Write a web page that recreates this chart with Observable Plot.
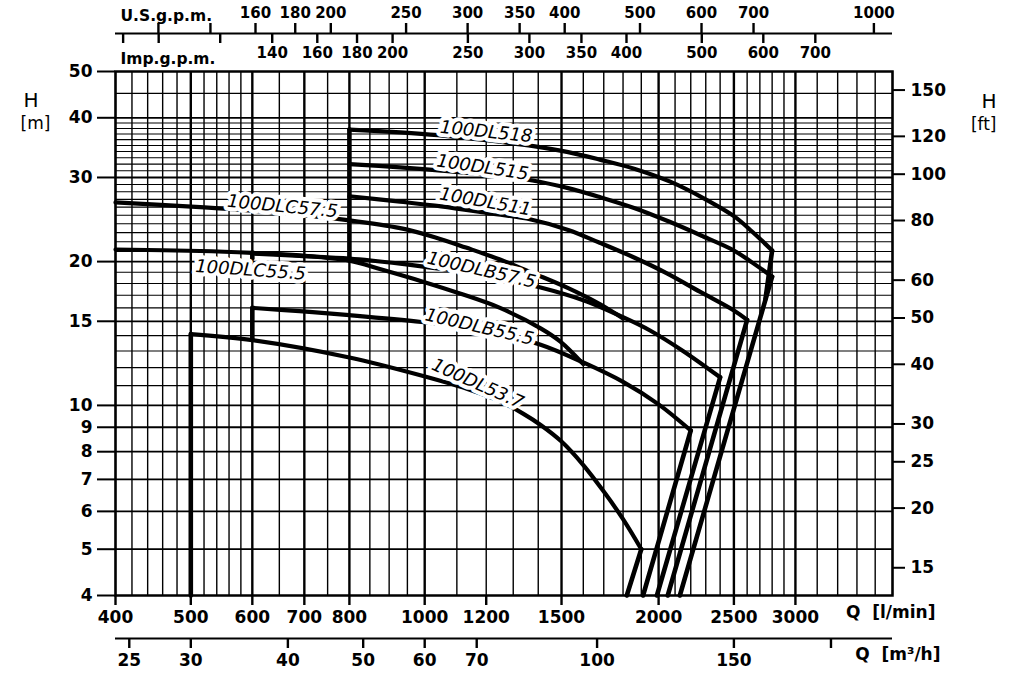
<!DOCTYPE html>
<html><head><meta charset="utf-8">
<script src="https://cdn.jsdelivr.net/npm/d3@7"></script>
<script src="https://cdn.jsdelivr.net/npm/@observablehq/plot@0.6"></script>
<style>html,body{margin:0;padding:0;background:#fff;}</style>
</head><body><div id="chart"></div>
<script>
// ---- unit conversions ----
const US_GAL = 3.785411784, IMP_GAL = 4.54609, FT = 0.3048, M3H = 1000 / 60;

// ---- axis ticks ----
const qLabeled = [400, 500, 600, 700, 800, 1000, 1200, 1500, 2000, 2500, 3000];
const hLabeled = [4, 5, 6, 7, 8, 9, 10, 15, 20, 30, 40, 50];
const ftLabeled = [15, 20, 25, 30, 40, 50, 60, 80, 100, 120, 150];
const usTicks = [120, 140, 160, 180, 200, 250, 300, 350, 400, 500, 600, 700, 1000];
const usUnlabeled = [120, 140];
const impTicks = [90, 100, 120, 140, 160, 180, 200, 250, 300, 350, 400, 500, 600, 700];
const impUnlabeled = [90, 100, 120];
const m3hTicks = [25, 30, 40, 50, 60, 70, 100, 150, 200];
const m3hUnlabeled = [200];

// ---- grid ----
const qGrid = [...d3.range(400, 600, 20), ...d3.range(600, 1000, 50), ...d3.range(1000, 3000, 100), ...d3.range(3000, 4001, 200)];
const qMajor = [500, 600, 700, 800, 1000, 1500, 2000, 2500, 3000];
const hGrid = [4, 5, 6, 7, 8, 9, ...d3.range(10, 41, 1), 45, 50];
const hMajor = [5, 6, 7, 8, 9, 10, 15, 20, 30, 40];

// ---- pump curves [Q l/min, H m] ----
const dl518 = [[800,37.8],[930,37.3],[1040,36.8],[1200,35.9],[1380,34.9],[1530,33.9],[1680,32.7],[1860,31.3],[2070,29.4],[2280,27.2],[2500,24.9],[2640,23.1],[2800,21.1]];
const dl515 = [[800,32.0],[930,31.5],[1050,31.0],[1200,30.4],[1370,29.6],[1530,28.5],[1680,27.3],[1860,25.9],[2070,24.2],[2280,22.6],[2500,21.1],[2640,19.9],[2800,18.6]];
const dl511 = [[800,27.4],[930,26.7],[1050,26.1],[1200,25.3],[1370,24.5],[1530,23.3],[1680,21.9],[1860,20.4],[2050,18.9],[2260,17.3],[2500,15.8],[2600,15.1]];
const dlc575 = [[400,26.6],[514,26.0],[650,25.3],[800,24.4],[930,23.5],[1030,22.5],[1130,21.4],[1250,20.2],[1380,18.9],[1530,17.6],[1680,16.3],[1800,15.2]];
const dlc555 = [[400,21.2],[514,21.05],[600,20.85],[690,20.6],[800,20.1],[880,19.25],[990,18.2],[1110,17.15],[1250,16.0],[1410,14.5],[1495,13.6],[1600,12.2]];
const dlb575 = [[600,20.8],[690,20.55],[800,20.3],[930,19.8],[1050,19.3],[1200,18.7],[1410,17.65],[1600,16.6],[1800,15.3],[1950,14.35],[2150,13.0],[2400,11.45]];
const dlb555 = [[600,16.0],[690,15.75],[800,15.45],[990,14.95],[1200,14.35],[1410,13.4],[1600,12.3],[1800,11.2],[2000,10.05],[2200,8.86]];
const dl537 = [[500,14.1],[600,13.7],[800,12.6],[990,11.55],[1150,10.75],[1250,10.2],[1340,9.6],[1410,9.1],[1500,8.4],[1600,7.5],[1700,6.6],[1800,5.78],[1900,5.0]];

// end-of-curve drops and start verticals
const drops = [
  [[1900,5.0],[1820,4.0]],
  [[2200,8.86],[1910,4.0]],
  [[2400,11.45],[1990,4.0]],
  [[2600,15.1],[2055,4.0]],
  [[2800,18.6],[2130,4.0]],
  [[2800,21.1],[2745,16.7]]
];
const starts = [
  [[500,4.0],[500,14.1]],
  [[600,13.7],[600,16.0]],
  [[600,20.3],[600,20.9]],
  [[800,20.1],[800,37.8]]
];

// ---- curve labels ----
const labelNames = ["100DL518","100DL515","100DL511","100DLC57.5","100DLC55.5","100DLB57.5","100DLB55.5","100DL53.7"];
const labelQ = [1200, 1187, 1197, 656, 597, 1183, 1176, 1170];
const labelH = [37.4, 31.5, 26.7, 26.1, 19.2, 19.2, 14.6, 11.1];
const labelAngle = [6, 8.5, 10, 5.5, 4, 13, 13, 24];

const curves = [dl518, dl515, dl511, dlc575, dlc555, dlb575, dlb555, dl537];
const labels = labelNames.map((n, i) => ({name: n, q: labelQ[i], h: labelH[i], a: labelAngle[i]}));

const fmtFrom = (k, skip) => d => { const v = Math.round(d / k); return skip.includes(v) ? "" : String(v); };
const tickFont = {fontSize: 17, fontWeight: "bold"};

const chart = Plot.plot({
  width: 1011, height: 674,
  marginLeft: 115, marginRight: 119, marginTop: 71, marginBottom: 79,
  x: {type: "log", domain: [400, 4000], axis: null},
  y: {type: "log", domain: [4, 50], axis: null},
  style: {fontFamily: "DejaVu Sans", background: "white", color: "black"},
  marks: [
    Plot.ruleX(qGrid.filter(q => !qMajor.includes(q)), {strokeWidth: 1.4}),
    Plot.ruleX(qMajor, {strokeWidth: 2.4}),
    Plot.ruleY(hGrid.filter(h => !hMajor.includes(h)), {strokeWidth: 1.1}),
    Plot.ruleY(hMajor, {strokeWidth: 1.8}),
    Plot.frame({strokeWidth: 2.5}),
    ...curves.map(c => Plot.line(c, {x: d => d[0], y: d => d[1], curve: "catmull-rom", strokeWidth: 4.2})),
    ...drops.map(c => Plot.line(c, {x: d => d[0], y: d => d[1], strokeWidth: 4.6})),
    ...starts.map(c => Plot.line(c, {x: d => d[0], y: d => d[1], strokeWidth: 4.6})),
    Plot.text(labels, {x: "q", y: "h", text: "name", rotate: "a", fontSize: 18, fontStyle: "italic",
      fill: "black", stroke: "white", strokeWidth: 8, strokeLinejoin: "round"}),
    // left H [m] axis
    Plot.axisY({anchor: "left", ticks: hLabeled, tickSize: 18, tickPadding: 5, strokeWidth: 2, label: null, tickFormat: d => String(d), ...tickFont}),
    // right H [ft] axis (ticks + labels)
    Plot.tickY(ftLabeled, {y: d => d * FT, insetLeft: 777, insetRight: -13, strokeWidth: 2}),
    Plot.text(ftLabeled, {y: d => d * FT, text: d => String(d), frameAnchor: "right", dx: 18, textAnchor: "start", ...tickFont}),
    // bottom Q [l/min]
    Plot.axisX({anchor: "bottom", ticks: qLabeled, tickSize: 10, tickPadding: 5, strokeWidth: 2.4, label: null, tickFormat: d => String(d), ...tickFont}),
    // bottom Q [m3/h]
    Plot.ruleY([4], {dy: 43, strokeWidth: 2}),
    Plot.axisX({anchor: "bottom", ticks: m3hTicks.map(v => v * M3H), tickSize: 10, tickPadding: 5, dy: 43, strokeWidth: 2.4, label: null, tickFormat: fmtFrom(M3H, m3hUnlabeled), ...tickFont}),
    // top US / Imp gpm
    Plot.ruleY([50], {dy: -38, strokeWidth: 2}),
    Plot.axisX({anchor: "top", ticks: usTicks.map(v => v * US_GAL), tickSize: 11, tickPadding: 5, dy: -38, strokeWidth: 2.4, label: null, tickFormat: fmtFrom(US_GAL, usUnlabeled), fontSize: 15, fontWeight: "bold"}),
    Plot.axisX({anchor: "bottom", ticks: impTicks.map(v => v * IMP_GAL), tickSize: 10, tickPadding: 4, dy: -562, strokeWidth: 2.4, label: null, tickFormat: fmtFrom(IMP_GAL, impUnlabeled), fontSize: 15, fontWeight: "bold"}),
    // unit titles
    Plot.text(["U.S.g.p.m."], {frameAnchor: "top-left", dx: 5, dy: -62, textAnchor: "start", fontSize: 15.5, fontWeight: "bold"}),
    Plot.text(["Imp.g.p.m."], {frameAnchor: "top-left", dx: 5, dy: -19, textAnchor: "start", fontSize: 15.5, fontWeight: "bold"}),
    Plot.text(["Q\u00a0\u00a0[l/min]"], {frameAnchor: "bottom-right", dx: 43, dy: 22, textAnchor: "end", fontSize: 17, fontWeight: "bold"}),
    Plot.text(["Q\u00a0\u00a0[m³/h]"], {frameAnchor: "bottom-right", dx: 48, dy: 64, textAnchor: "end", fontSize: 17, fontWeight: "bold"}),
    Plot.text(["H"], {frameAnchor: "top-left", dx: -92, dy: 21, fontSize: 20}),
    Plot.text(["[m]"], {frameAnchor: "top-left", dx: -95, dy: 45, fontSize: 17}),
    Plot.text(["H"], {frameAnchor: "top-right", dx: 104, dy: 22, fontSize: 20}),
    Plot.text(["[ft]"], {frameAnchor: "top-right", dx: 104, dy: 46, fontSize: 17})
  ]
});
document.getElementById("chart").appendChild(chart);
</script>
</body></html>
